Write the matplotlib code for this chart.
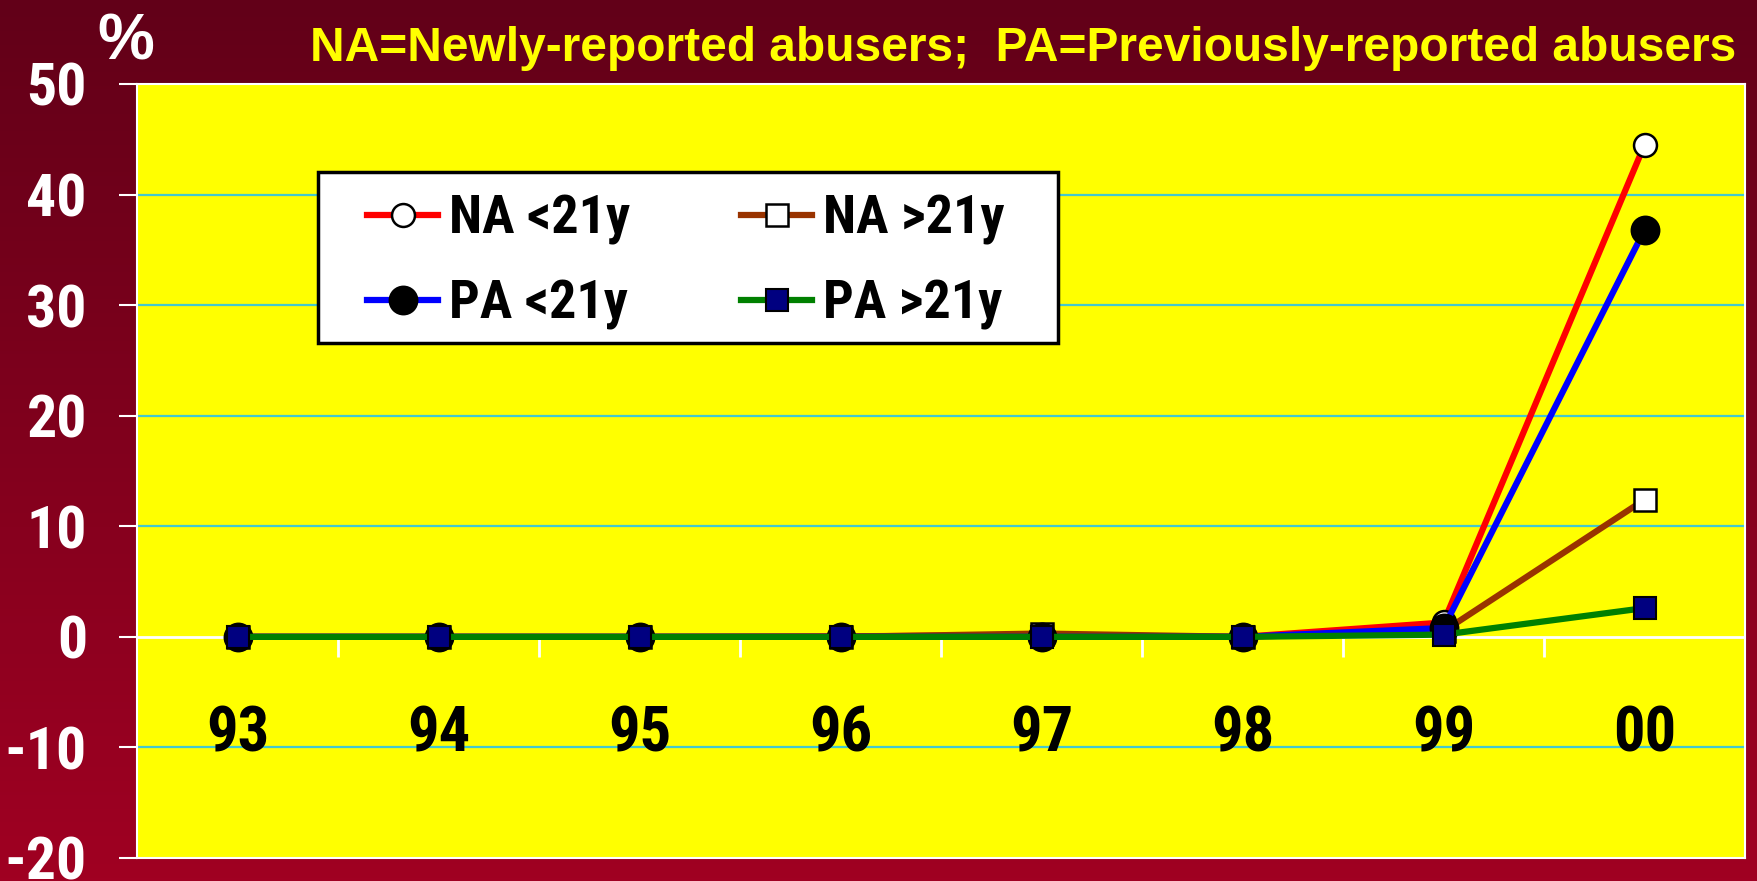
import os
import numpy as np
import matplotlib
matplotlib.use('Agg')
import matplotlib.pyplot as plt
from matplotlib import font_manager
from matplotlib.patches import Rectangle

# data
years = ['93', '94', '95', '96', '97', '98', '99', '00']
na_young = [0, 0, 0, 0.05, 0.15, 0, 1.3, 44.5]
na_old = [0, 0, 0, 0, 0.3, 0, 0.5, 12.4]
pa_young = [0, 0, 0, 0, 0, 0, 0.8, 36.8]
pa_old = [0, 0, 0, 0, 0, 0, 0.2, 2.6]
series_labels = ['NA <21y', 'NA >21y', 'PA <21y', 'PA >21y']
yticks = [-20, -10, 0, 10, 20, 30, 40, 50]
grid_vals = [-10, 10, 20, 30, 40]

W, H = 1757, 881


def narrow_bold():
    # a condensed bold face if one is installed, else plain Liberation Sans Bold
    for name in ['Liberation Sans Narrow', 'Arial Narrow', 'Roboto Condensed']:
        for f in font_manager.fontManager.ttflist:
            base = os.path.basename(f.fname).lower()
            if f.name == name and 'bold' in base and 'italic' not in base:
                return font_manager.FontProperties(fname=f.fname), 1.0
    return font_manager.FontProperties(family='Liberation Sans', weight='bold'), 0.88


nfp, scale = narrow_bold()


def nprop(size):
    p = nfp.copy()
    p.set_size(size * scale)
    return p


def fx(x):
    return x / W


def fy(y):
    return 1 - y / H


fig = plt.figure(figsize=(W / 100, H / 100), dpi=100)

# background gradient, dark maroon at top to crimson at bottom
bg = fig.add_axes([0, 0, 1, 1], zorder=-10)
top = np.array([0x62, 0x00, 0x18]) / 255
bot = np.array([0xA0, 0x00, 0x22]) / 255
t = np.linspace(0, 1, 256)[:, None]
grad = (top[None, :] * (1 - t) + bot[None, :] * t)[:, None, :]
bg.imshow(grad, aspect='auto', extent=[0, 1, 0, 1])
bg.set_axis_off()

ax = fig.add_axes([fx(137), fy(858), fx(1745) - fx(137), fy(84) - fy(858)])
ax.set_facecolor('#FFFF00')
x = np.arange(len(years))
ax.set_xlim(-0.5, len(years) - 0.5)
ax.set_ylim(-20, 50)

for g in grid_vals:
    ax.axhline(g, color='#44C8CC', lw=1.6, zorder=1)
ax.axhline(0, color='white', lw=2, zorder=2)
ax.vlines(x[:-1] + 0.5, -1.8, 0, color='white', lw=2, zorder=2)

for s in ax.spines.values():
    s.set_color('white')
    s.set_linewidth(1.5)

ax.set_xticks([])
ax.set_yticks(yticks)
ax.set_yticklabels([str(v) for v in yticks])
ax.tick_params(axis='y', direction='out', length=13, width=1.5, color='white',
               pad=23, labelcolor='white')
for lab in ax.get_yticklabels():
    lab.set_fontproperties(nprop(43))

for i, yr in enumerate(years):
    ax.text(x[i], -8.8, yr, ha='center', va='center', fontproperties=nprop(45),
            color='black')

lw = 4.5
h1, = ax.plot(x, na_young, color='#FF0000', lw=lw, marker='o', ms=16.5,
              mfc='white', mec='black', mew=1.8, zorder=3, label=series_labels[0])
h2, = ax.plot(x, na_old, color='#993300', lw=lw, marker='s', ms=16,
              mfc='white', mec='black', mew=1.8, zorder=4, label=series_labels[1])
h3, = ax.plot(x, pa_young, color='#0000FF', lw=lw, marker='o', ms=20,
              mfc='black', mec='black', mew=1.5, zorder=5, label=series_labels[2])
h4, = ax.plot(x, pa_old, color='#008000', lw=lw, marker='s', ms=16,
              mfc='#000080', mec='black', mew=1.5, zorder=6, label=series_labels[3])

# legend box
fig.patches.append(Rectangle((fx(318), fy(343)), fx(1058) - fx(318), fy(172) - fy(343),
                             transform=fig.transFigure, facecolor='white',
                             edgecolor='black', lw=2.5, zorder=8))
lprop = nprop(39)
lfs = lprop.get_size_in_points() * 100 / 72
leg = fig.legend([h1, h3, h2, h4],
                 [series_labels[0], series_labels[2], series_labels[1], series_labels[3]],
                 ncol=2, loc='center left', bbox_to_anchor=(fx(367), fy(262)),
                 frameon=False, borderpad=0, borderaxespad=0,
                 handlelength=71 / lfs, handletextpad=11 / lfs, columnspacing=111 / lfs,
                 labelspacing=0.62 / scale, prop=lprop)
leg.set_zorder(9)

fig.text(fx(126), fy(42), '%', ha='center', va='center', fontsize=46,
         fontweight='bold', family='Liberation Sans', color='white')
fig.text(fx(1736), fy(61), 'NA=Newly-reported abusers;  PA=Previously-reported abusers',
         ha='right', va='baseline', fontsize=34.5, fontweight='bold', family='Liberation Sans',
         color='#FFFF00')

fig.savefig('out.png', dpi=100)
